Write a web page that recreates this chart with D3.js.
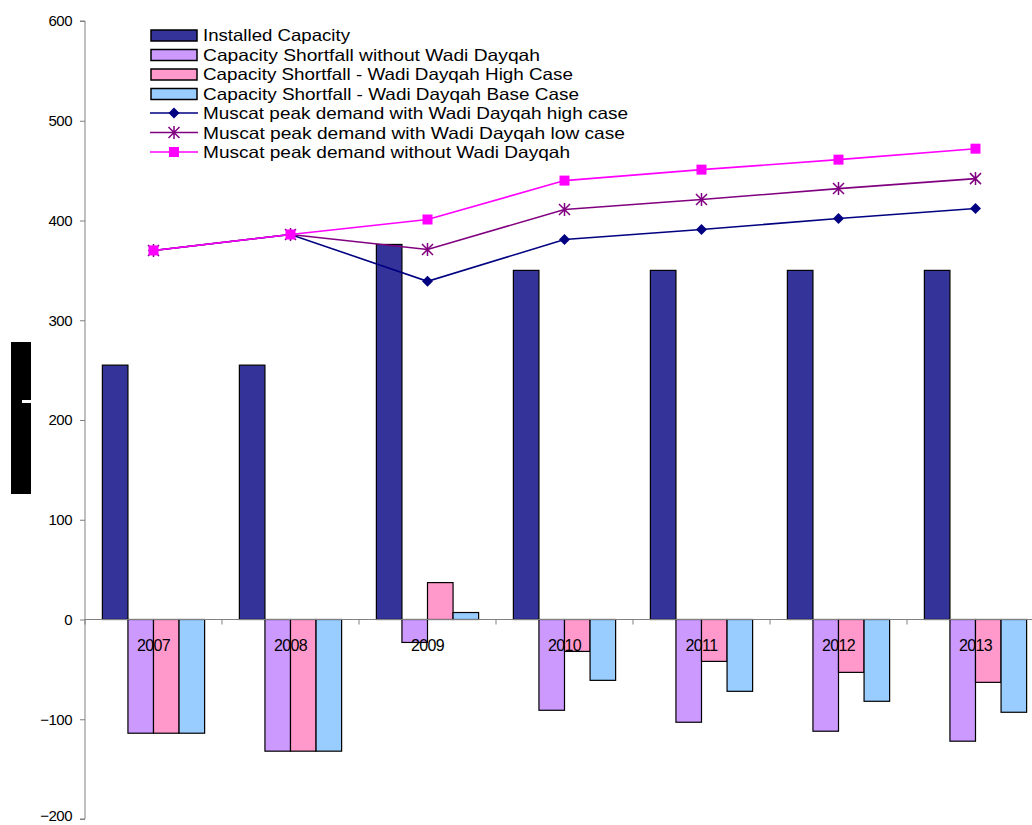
<!DOCTYPE html>
<html><head><meta charset="utf-8">
<script src="https://cdn.jsdelivr.net/npm/d3@7"></script>
<style>body{margin:0;background:#fff;} svg{display:block;font-family:"Liberation Sans",Arial,sans-serif;}</style>
</head><body>
<svg id="c" width="1032" height="825"></svg>
<script>
const years = ["2007","2008","2009","2010","2011","2012","2013"];
const installedCapacity = [255, 255, 376, 350, 350, 350, 350];
const shortfallWithout = [-114, -132, -23, -91, -103, -112, -122];
const shortfallHigh = [-114, -132, 37, -32, -42, -53, -63];
const shortfallBase = [-114, -132, 7, -61, -72, -82, -93];
const demandHigh = [370, 386, 339, 381, 391, 402, 412];
const demandLow = [370, 386, 371, 411, 421, 432, 442];
const demandWithout = [370, 386, 401, 440, 451, 461, 472];
const yTicks = [-200, -100, 0, 100, 200, 300, 400, 500, 600];

const barSeries = [
  {name:"Installed Capacity", values: installedCapacity, color:"#333399"},
  {name:"Capacity Shortfall without Wadi Dayqah", values: shortfallWithout, color:"#CC99FF"},
  {name:"Capacity Shortfall - Wadi Dayqah High Case", values: shortfallHigh, color:"#FF99CC"},
  {name:"Capacity Shortfall - Wadi Dayqah Base Case", values: shortfallBase, color:"#99CCFF"}
];
const lineSeries = [
  {name:"Muscat peak demand with Wadi Dayqah high case", values: demandHigh, color:"#000080", marker:"diamond"},
  {name:"Muscat peak demand with Wadi Dayqah low  case", values: demandLow, color:"#800080", marker:"star"},
  {name:"Muscat peak demand without Wadi Dayqah", values: demandWithout, color:"#FF00FF", marker:"square"}
];

const svg = d3.select("#c");
const x0 = 85, bandW = 137;
const x = d3.scaleBand().domain(years).range([x0, x0 + bandW*years.length]).paddingInner(0).paddingOuter(0);
const xs = d3.scaleBand().domain(d3.range(4)).range([0, x.bandwidth()]).paddingInner(0).paddingOuter(0.68);
const y = d3.scaleLinear().domain([-200, 600]).range([819, 21]);

// left black box (garbled axis title)
svg.append("rect").attr("x",11).attr("y",342).attr("width",20).attr("height",152).attr("fill","#000");
svg.append("rect").attr("x",22).attr("y",400).attr("width",9).attr("height",3).attr("fill","#fff");

// y axis
const yAxis = d3.axisLeft(y).tickValues(yTicks).tickSize(5).tickPadding(8).tickFormat(d3.format("d"));
const gy = svg.append("g").attr("transform",`translate(${x0},0)`).call(yAxis);
gy.select(".domain").attr("stroke","#808080").attr("d",`M-5,${y(600)}H0V${y(-200)}H-5`);
gy.selectAll(".tick line").attr("stroke","#808080");
gy.selectAll(".tick text").attr("font-size",15).attr("fill","#000").attr("letter-spacing","-0.5").attr("font-family","Liberation Sans, Arial, sans-serif");
gy.selectAll(".tick text").filter(d => d === -200).attr("dy","0.1em");

// bars
barSeries.forEach((s, si) => {
  svg.append("g").selectAll("rect").data(s.values).join("rect")
    .attr("x",(d,i)=>x(years[i]) + xs(si))
    .attr("width", xs.bandwidth())
    .attr("y", d => y(Math.max(0,d)))
    .attr("height", d => Math.abs(y(d)-y(0)))
    .attr("fill", s.color).attr("stroke","#000").attr("stroke-width",1.2);
});

// x axis line at zero
const xAxis = d3.axisBottom(x).tickSize(0).tickFormat("");
const gx = svg.append("g").attr("transform",`translate(0,${y(0)})`).call(xAxis);
gx.select(".domain").attr("stroke","#808080").attr("d",`M${x0},0H1032`);
gx.selectAll(".tick").remove();
const boundaries = years.map(yr => x(yr)).concat([x0 + bandW*years.length]);
gx.selectAll("line.bt").data(boundaries).join("line").attr("class","bt")
  .attr("x1",d=>d).attr("x2",d=>d).attr("y1",0).attr("y2",5).attr("stroke","#808080");

// lines
function drawMarker(g, type, cx, cy, color){
  if(type==="diamond"){
    g.append("path").attr("d",`M${cx},${cy-5.5}L${cx+5.5},${cy}L${cx},${cy+5.5}L${cx-5.5},${cy}Z`).attr("fill",color);
  } else if(type==="square"){
    g.append("rect").attr("x",cx-5).attr("y",cy-5).attr("width",10).attr("height",10).attr("fill",color);
  } else {
    const r=5.5;
    g.append("path").attr("d",`M${cx-r},${cy-r}L${cx+r},${cy+r}M${cx-r},${cy+r}L${cx+r},${cy-r}M${cx},${cy-r-1}V${cy+r+1}`)
      .attr("stroke",color).attr("stroke-width",1.5).attr("fill","none");
  }
}
const line = d3.line().x((d,i)=>x(years[i])+x.bandwidth()/2).y(d=>y(d));
lineSeries.forEach(s => {
  const g = svg.append("g");
  g.append("path").datum(s.values).attr("d",line).attr("fill","none").attr("stroke",s.color).attr("stroke-width",1.6);
  s.values.forEach((v,i)=>drawMarker(g, s.marker, x(years[i])+x.bandwidth()/2, y(v), s.color));
});

// category labels (drawn on top of bars)
svg.append("g").selectAll("text").data(years).join("text")
  .attr("x",d=>x(d)+x.bandwidth()/2).attr("y",y(0)+31)
  .attr("text-anchor","middle").attr("font-size",16).attr("letter-spacing","-0.6").attr("fill","#000").text(d=>d);

// legend
const legendX = 150, legendTextX = 203, legendY0 = 35, legendStep = 19.5;
const legendWidths = [147, 337, 370, 376, 425, 422, 367];
const legendItems = barSeries.map(s=>({name:s.name,color:s.color,type:"bar"}))
  .concat(lineSeries.map(s=>({name:s.name,color:s.color,type:"line",marker:s.marker})));
const lg = svg.append("g");
legendItems.forEach((it,i)=>{
  const cy = legendY0 + i*legendStep;
  if(it.type==="bar"){
    lg.append("rect").attr("x",legendX+1).attr("y",cy-5).attr("width",46).attr("height",11)
      .attr("fill",it.color).attr("stroke","#000").attr("stroke-width",1.5);
  } else {
    lg.append("line").attr("x1",legendX).attr("x2",legendX+48).attr("y1",cy).attr("y2",cy).attr("stroke",it.color).attr("stroke-width",1.6);
    drawMarker(lg, it.marker, legendX+24, cy, it.color);
  }
  lg.append("text").attr("x",legendTextX).attr("y",cy+6).attr("font-size",16.5).attr("fill","#000")
    .attr("textLength",legendWidths[i]).attr("lengthAdjust","spacingAndGlyphs").text(it.name);
});
</script>
</body></html>
